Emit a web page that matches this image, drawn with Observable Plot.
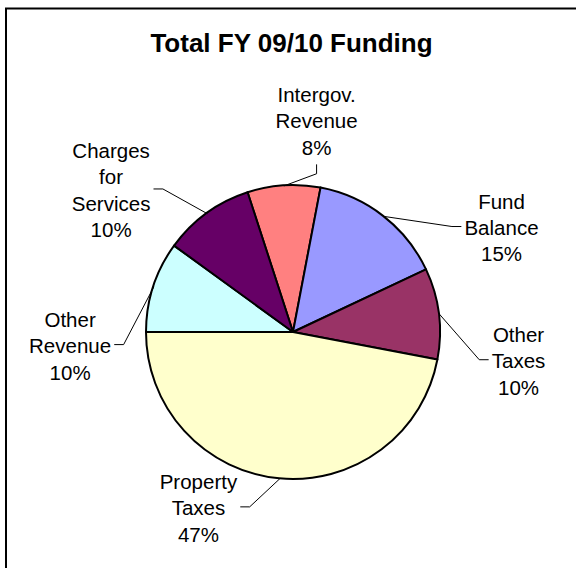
<!DOCTYPE html>
<html>
<head>
<meta charset="utf-8">
<script src="https://cdn.jsdelivr.net/npm/d3@7"></script>
<script src="https://cdn.jsdelivr.net/npm/@observablehq/plot@0.6"></script>
<style>
html, body { margin: 0; padding: 0; background: #fff; overflow: hidden; }
svg { display: block; }
</style>
</head>
<body>
<div id="chart"></div>
<script>
// ---- data ----
const title = "Total FY 09/10 Funding";
const categories = ["Intergov. Revenue", "Fund Balance", "Other Taxes", "Property Taxes", "Other Revenue", "Charges for Services"];
const labelLines = ["Intergov.\nRevenue", "Fund\nBalance", "Other\nTaxes", "Property\nTaxes", "Other\nRevenue", "Charges\nfor\nServices"];
const shares = [8, 15, 10, 47, 10, 10];
const colors = ["#FF8080", "#9999FF", "#993366", "#FFFFCC", "#CCFFFF", "#660066"];
// label placement (polar, clockwise from 12 o'clock, distance in pie radii)
const labelAngleDeg = [6.2, 63.0, 96.9, 208.6, 266.9, 308.2];
const labelDistance = [1.454, 1.588, 1.542, 1.351, 1.522, 1.579];
const pieStartDeg = -18;

// ---- layout ----
const W = 576, H = 568;
const xOpts = {domain: [-1, 1], range: [146, 440]};
const yOpts = {domain: [-1, 1], range: [479, 185]};
const xs = Plot.scale({x: xOpts});
const ys = Plot.scale({y: yOpts});
const pxPerUnit = (xOpts.range[1] - xOpts.range[0]) / 2;
const FONT = "'Liberation Sans', Arial, sans-serif";
const FS = 20.5, LH = 26.5;

const total = d3.sum(shares);
const rad = Math.PI / 180;
const arcs = d3.pie().sort(null).value(d => d)
  .startAngle(pieStartDeg * rad).endAngle((pieStartDeg + 360) * rad)(shares);

const ctx = document.createElement("canvas").getContext("2d");
ctx.font = `${FS}px ${FONT}`;

const slices = categories.map((name, i) => {
  const a = arcs[i];
  const mid = (a.startAngle + a.endAngle) / 2;
  const la = labelAngleDeg[i] * rad, ld = labelDistance[i];
  const lx = ld * Math.sin(la), ly = ld * Math.cos(la);
  const text = labelLines[i] + "\n" + Math.round(shares[i] / total * 100) + "%";
  const lines = text.split("\n");
  const maxW = d3.max(lines, s => ctx.measureText(s).width);
  const nl = lines.length;
  const tick = 9 / pxPerUnit;
  let end, elbow;
  if (Math.abs(lx) < 0.5) {
    const off = (nl * LH / 2 + 5) / pxPerUnit;
    if (ly > 0) { end = [lx, ly - off]; elbow = [lx, ly - off - tick]; }
    else { end = [lx, ly + off]; elbow = [lx, ly + off + tick]; }
  } else {
    const off = (maxW / 2 + 3.5) / pxPerUnit;
    const s = lx > 0 ? -1 : 1;
    end = [lx + s * off, ly]; elbow = [lx + s * (off + tick), ly];
  }
  return {name, lx, ly, text, leader: [[Math.sin(mid), Math.cos(mid)], elbow, end]};
});

const leaderPts = slices.flatMap((s, i) => s.leader.map(p => ({x: p[0], y: p[1], k: i})));

// chart-area border: only top and left edges fall inside the picture
const borderMark = (index, scales, values, dimensions) => {
  const w = dimensions ? dimensions.width : W, h = dimensions ? dimensions.height : H;
  return d3.create("svg:path")
    .attr("d", `M6,${h + 5}V8.5H${w + 5}`)
    .attr("fill", "none").attr("stroke", "#000").attr("stroke-width", 2)
    .node();
};

const pieMark = (index, scales) => {
  const fx = scales && scales.x ? scales.x : v => xs.apply(v);
  const fy = scales && scales.y ? scales.y : v => ys.apply(v);
  const cx = fx(0), cy = fy(0), r = fx(1) - cx;
  const g = d3.create("svg:g");
  const arcGen = d3.arc().innerRadius(0).outerRadius(r);
  g.selectAll("path").data(arcs).join("path")
    .attr("transform", `translate(${cx},${cy})`)
    .attr("d", arcGen)
    .attr("fill", (d, i) => colors[i])
    .attr("stroke", "#000")
    .attr("stroke-width", 2)
    .attr("stroke-linejoin", "round");
  return g.node();
};

const chart = Plot.plot({
  width: W, height: H, margin: 0,
  x: {...xOpts, axis: null},
  y: {...yOpts, axis: null},
  style: {fontFamily: FONT, background: "#fff", overflow: "hidden"},
  marks: [
    borderMark,
    pieMark,
    Plot.line(leaderPts, {x: "x", y: "y", z: "k", stroke: "#000", strokeWidth: 1}),
    Plot.text(slices, {x: "lx", y: "ly", text: "text", fontSize: FS, lineHeight: LH / FS, fill: "#000"}),
    Plot.text([title], {frameAnchor: "top", dy: 33, dx: 3, fontSize: 26, fontWeight: "bold", fill: "#000"})
  ]
});
document.getElementById("chart").appendChild(chart);
</script>
</body>
</html>
